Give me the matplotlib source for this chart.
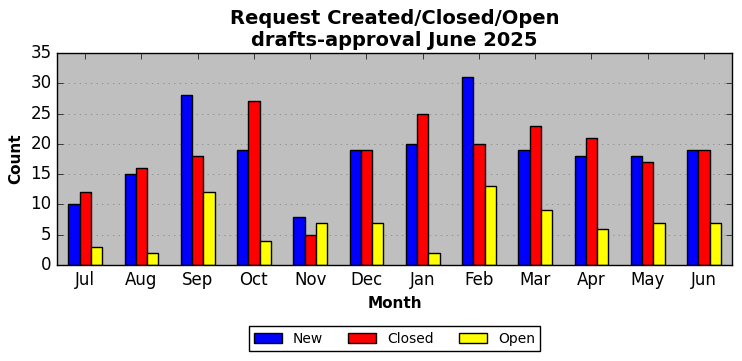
import numpy as np
import matplotlib
matplotlib.use('Agg')
import matplotlib.pyplot as plt

plt.style.use('classic')

months = ['Jul', 'Aug', 'Sep', 'Oct', 'Nov', 'Dec', 'Jan', 'Feb', 'Mar', 'Apr', 'May', 'Jun']
new_reqs = [10, 15, 28, 19, 8, 19, 20, 31, 19, 18, 18, 19]
closed_reqs = [12, 16, 18, 27, 5, 19, 25, 20, 23, 21, 17, 19]
open_reqs = [3, 2, 12, 4, 7, 7, 2, 13, 9, 6, 7, 7]

x = np.arange(len(months))
w = 0.2

fig = plt.figure(figsize=(7.42, 3.61), dpi=100, facecolor='white')
ax = fig.add_axes([57/742, 1-265/361, (732-57)/742, (265-53)/361])
ax.set_facecolor('#bfbfbf')

ax.bar(x - w, new_reqs, w, align='center', color='blue', edgecolor='black', label='New')
ax.bar(x, closed_reqs, w, align='center', color='red', edgecolor='black', label='Closed')
ax.bar(x + w, open_reqs, w, align='center', color='yellow', edgecolor='black', label='Open')

ax.set_xticks(x)
ax.set_xticklabels(months)
ax.set_xlim(-0.5, len(months) - 0.5)
ax.set_ylim(0, 35)
ax.yaxis.grid(True, color='#808080', linestyle=':')
ax.set_axisbelow(True)

ax.set_xlabel('Month', fontweight='bold', fontsize=11)
ax.set_ylabel('Count', fontweight='bold', fontsize=11)
ax.set_title('Request Created/Closed/Open\ndrafts-approval June 2025', fontweight='bold', fontsize=14)

ax.legend(loc='upper center', bbox_to_anchor=(0.5, -0.255), ncol=3, fontsize=10,
          columnspacing=1.8)

fig.savefig('out.png', dpi=100, facecolor='white')
